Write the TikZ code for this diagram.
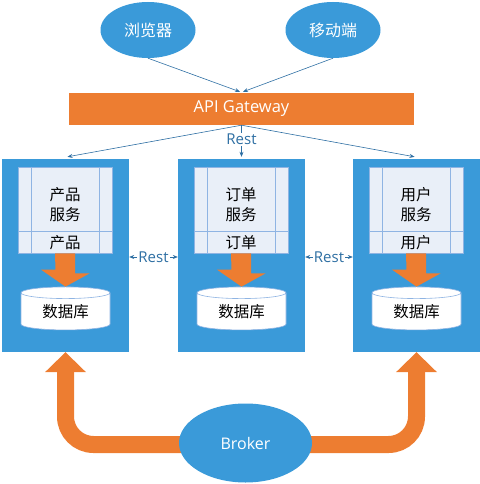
\documentclass[tikz,border=0pt]{standalone}
\usepackage{fontspec}
\setmainfont{Noto Sans CJK SC}
\newfontfamily\latinfont{Open Sans}
\usetikzlibrary{arrows.meta, positioning, shapes.geometric}
\definecolor{BoxBlue}{HTML}{3A9AD9}
\definecolor{GateOrange}{HTML}{ED7D31}
\definecolor{LineBlue}{HTML}{2E6FA3}
\definecolor{PanelFill}{HTML}{E9EFF8}
\definecolor{PanelLine}{HTML}{8FB4E3}
\tikzset{
  Arrow1/.style = {
    draw=LineBlue, line width=0.6pt,
    -{Stealth[length = 5pt, width = 4pt]},
  },
  Arrow2/.style = {
    draw=LineBlue, line width=0.6pt,
    {Stealth[length = 5pt, width = 4pt]}-{Stealth[length = 5pt, width = 4pt]},
  },
  Client/.style = {ellipse, fill=BoxBlue, text=white, inner sep=0pt,
    minimum width=95pt, minimum height=56pt, font=\fontsize{16}{18}\selectfont},
  Service/.style = {rectangle, fill=BoxBlue, inner sep=0pt,
    minimum width=127pt, minimum height=193pt},
  Panel/.style = {rectangle, fill=PanelFill, draw=PanelLine, line width=0.8pt,
    inner sep=0pt, minimum width=94pt, minimum height=86pt},
  PanelText/.style = {align=center, inner sep=0pt, font=\fontsize{15.5}{20}\selectfont},
  DataBase/.style = {cylinder, shape border rotate=90, aspect=0.25, fill=white,
    draw=PanelLine, line width=0.6pt, inner sep=0pt,
    minimum width=89pt, minimum height=43pt, font=\fontsize{15.5}{18}\selectfont},
  RestText/.style = {fill=white, text=LineBlue, inner sep=1pt,
    font=\latinfont\fontsize{15}{16}\selectfont},
}

\begin{document}
\begin{tikzpicture}[x=1pt, y=-1pt]
  \useasboundingbox (0,0) rectangle (479,484);
  % clients and gateway
  \node[Client](browser) at (148,30){浏览器};
  \node[Client](mobile) at (333,30){移动端};
  \node[rectangle, fill=GateOrange, text=white, inner sep=0pt, minimum width=345pt,
    minimum height=32pt, font=\latinfont\fontsize{16.5}{18}\selectfont](gateway) at (241.5,109){API Gateway};
  \draw[Arrow1] (browser.south) -- ([xshift=-1.5pt, yshift=1pt]gateway.north);
  \draw[Arrow1] (mobile.south) -- ([xshift=1.5pt, yshift=1pt]gateway.north);
  % services
  \node[Service](prodbox) at (65.5,255.5){};
  \node[Service](ordbox) at (241.5,255.5){};
  \node[Service](userbox) at (416.5,255.5){};
  \draw[Arrow1] (gateway.south) -- ([xshift=2pt, yshift=2pt]prodbox.north);
  \draw[Arrow1] (gateway.south) -- ([xshift=-2pt, yshift=2pt]userbox.north);
  \draw[Arrow1] (gateway.south) -- ([yshift=2pt]ordbox.north)
    node[RestText, pos=0.45]{Rest};
  \draw[Arrow2] ([yshift=-1.5pt]prodbox.east) -- ([yshift=-1.5pt]ordbox.west)
    node[RestText, midway]{Rest};
  \draw[Arrow2] ([yshift=-1.5pt]ordbox.east) -- ([yshift=-1.5pt]userbox.west)
    node[RestText, midway]{Rest};
  % panels
  \node[Panel](prodpanel) at (65,210){};
  \node[Panel](ordpanel) at (241,210){};
  \node[Panel](userpanel) at (416,210){};
  \draw[PanelLine, line width=0.8pt]
    ([xshift=14pt]prodpanel.north west) -- ([xshift=14pt]prodpanel.south west)
    ([xshift=-13pt]prodpanel.north east) -- ([xshift=-13pt]prodpanel.south east)
    ([yshift=22pt]prodpanel.south west) -- ([yshift=22pt]prodpanel.south east)
    ([xshift=14pt]ordpanel.north west) -- ([xshift=14pt]ordpanel.south west)
    ([xshift=-13pt]ordpanel.north east) -- ([xshift=-13pt]ordpanel.south east)
    ([yshift=22pt]ordpanel.south west) -- ([yshift=22pt]ordpanel.south east)
    ([xshift=14pt]userpanel.north west) -- ([xshift=14pt]userpanel.south west)
    ([xshift=-13pt]userpanel.north east) -- ([xshift=-13pt]userpanel.south east)
    ([yshift=22pt]userpanel.south west) -- ([yshift=22pt]userpanel.south east);
  \node[PanelText](prodname) at ([yshift=5pt]prodpanel.center){产品\\服务};
  \node[PanelText](prodtag) at ([yshift=11pt]prodpanel.south){产品};
  \node[PanelText](ordname) at ([yshift=5pt]ordpanel.center){订单\\服务};
  \node[PanelText](ordtag) at ([yshift=11pt]ordpanel.south){订单};
  \node[PanelText](username) at ([yshift=5pt]userpanel.center){用户\\服务};
  \node[PanelText](usertag) at ([yshift=11pt]userpanel.south){用户};
  % databases
  \node[DataBase](proddb) at (65.5,311.5){数据库};
  \node[DataBase](orddb) at (241.5,311.5){数据库};
  \node[DataBase](userdb) at (416.5,311.5){数据库};
  \fill[GateOrange] ([xshift=-10pt]prodpanel.south) -- ++(20,0) -- ++(0,20) -- ++(14.5,0)
    -- (proddb.north) -- ++(-24.5,-17) -- ++(14.5,0) -- cycle;
  \fill[GateOrange] ([xshift=-10pt]ordpanel.south) -- ++(20,0) -- ++(0,20) -- ++(14.5,0)
    -- (orddb.north) -- ++(-24.5,-17) -- ++(14.5,0) -- cycle;
  \fill[GateOrange] ([xshift=-10pt]userpanel.south) -- ++(20,0) -- ++(0,20) -- ++(14.5,0)
    -- (userdb.north) -- ++(-24.5,-17) -- ++(14.5,0) -- cycle;
  % broker
  \coordinate(hub) at (245.5,444.5);
  \draw[GateOrange, line width=17pt, rounded corners=28pt]
    ([yshift=-20pt]prodbox.south) -- (prodbox.south |- hub)
    -- (userbox.south |- hub) -- ([yshift=-20pt]userbox.south);
  \fill[GateOrange] (prodbox.south) -- ++(-20.5,20) -- ++(41,0) -- cycle;
  \fill[GateOrange] (userbox.south) -- ++(-20.5,20) -- ++(41,0) -- cycle;
  \node[Client, minimum width=133pt, minimum height=79pt,
    font=\latinfont\fontsize{16}{18}\selectfont](broker) at (245.5,443){Broker};
\end{tikzpicture}
\end{document}
